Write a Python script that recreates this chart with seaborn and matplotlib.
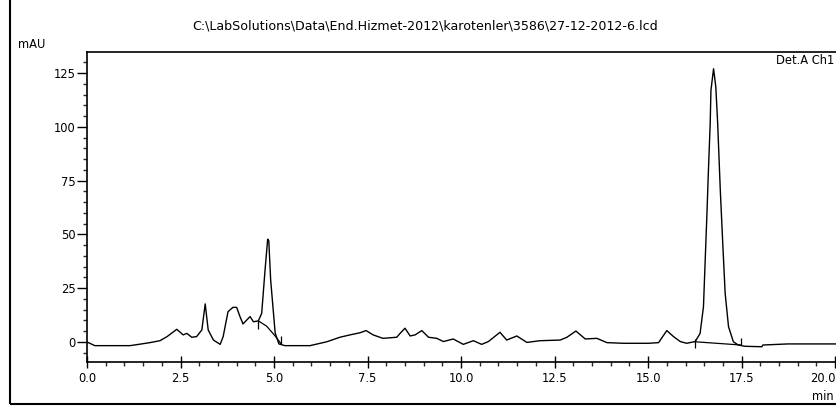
import matplotlib
matplotlib.use("Agg")
import matplotlib.pyplot as plt
from matplotlib.patches import Rectangle
from matplotlib.ticker import MultipleLocator, FormatStrFormatter
import seaborn as sns
import pandas as pd

# Chromatogram trace (retention time in min, absorbance in mAU)
time_min = [0.00, 0.21, 1.15, 1.42, 1.68, 1.95, 2.14, 2.40, 2.57, 2.67, 2.80, 2.93,
            3.07, 3.16, 3.24, 3.38, 3.56, 3.64, 3.77, 3.90, 4.00, 4.09, 4.17, 4.27,
            4.36, 4.45, 4.58, 4.67, 4.76, 4.83, 4.86, 4.91, 5.03, 5.13, 5.29, 5.96,
            6.41, 6.76, 7.03, 7.30, 7.46, 7.65, 7.91, 8.28, 8.37, 8.50, 8.64, 8.77,
            8.95, 9.13, 9.35, 9.53, 9.79, 10.06, 10.33, 10.55, 10.73, 11.04, 11.22,
            11.49, 11.76, 12.11, 12.65, 12.83, 13.07, 13.32, 13.63, 13.90, 14.34,
            15.01, 15.28, 15.50, 15.68, 15.86, 16.03, 16.26, 16.39, 16.48, 16.52,
            16.57, 16.61, 16.66, 16.68, 16.75, 16.81, 16.86, 16.93, 17.00, 17.06,
            17.15, 17.28, 17.41, 17.59, 18.04, 18.07, 18.74, 20.05]
signal_mau = [0.0, -1.7, -1.7, -1.0, -0.3, 0.6, 2.5, 5.9, 3.3, 4.0, 2.2, 2.5,
              5.6, 17.7, 5.6, 0.9, -1.1, 2.5, 14.1, 16.1, 16.1, 11.8, 8.4, 10.2,
              11.8, 9.4, 9.8, 13.3, 33.5, 47.8, 47.0, 28.8, 4.2, -0.9, -1.7, -1.7,
              0.1, 2.2, 3.3, 4.3, 5.3, 3.3, 1.7, 2.2, 4.0, 6.4, 2.8, 3.3,
              5.3, 2.2, 1.7, 0.2, 1.4, -1.1, 0.6, -1.1, 0.2, 4.5, 0.9,
              2.8, -0.2, 0.6, 0.9, 2.2, 5.1, 1.4, 1.7, -0.3, -0.6,
              -0.6, -0.3, 5.3, 2.5, 0.2, -0.6, 0.2, 4.0, 16.4, 35.0,
              58.2, 78.4, 101.6, 117.0, 127.0, 118.6, 101.6, 70.6, 44.3, 22.6,
              7.1, 0.1, -1.4, -2.0, -2.2, -1.4, -0.9, -0.9]

# Integration baselines
base1_time = [4.58, 4.80, 5.03, 5.19]
base1_mau = [9.8, 7.4, 2.8, -0.9]
base2_time = [16.26, 17.48]
base2_mau = [0.1, -1.4]

# Peak start / end markers: (time, top, bottom)
marker_time = [4.58, 5.19, 16.26, 17.48]
marker_top = [9.8, 2.8, 1.4, 1.9]
marker_bottom = [6.0, -0.9, -2.8, -1.4]

title_text = r"C:\LabSolutions\Data\End.Hizmet-2012\karotenler\3586\27-12-2012-6.lcd"

sns.set_style("ticks")
plt.rcParams['font.family'] = ['DejaVu Sans']
plt.rcParams['text.color'] = 'black'

fig = plt.figure(figsize=(8.37, 4.07), dpi=100)
ax = fig.add_axes([87 / 837, 1 - 362 / 407, 1 - 87 / 837, (362 - 52) / 407])

df = pd.DataFrame({"t": time_min, "v": signal_mau})
sns.lineplot(data=df, x="t", y="v", ax=ax, color="black", lw=1.0, sort=False)
sns.lineplot(x=base1_time, y=base1_mau, ax=ax, color="black", lw=0.9, sort=False)
sns.lineplot(x=base2_time, y=base2_mau, ax=ax, color="black", lw=0.9, sort=False)
ax.vlines(marker_time, marker_bottom, marker_top, color="black", lw=0.9)

ax.set_xlim(0, 20.05)
ax.set_ylim(-9.3, 134.8)
ax.set_xlabel("")
ax.set_ylabel("")

ax.xaxis.set_major_locator(MultipleLocator(2.5))
ax.xaxis.set_minor_locator(MultipleLocator(0.5))
ax.yaxis.set_major_locator(MultipleLocator(25))
ax.yaxis.set_minor_locator(MultipleLocator(5))
ax.xaxis.set_major_formatter(FormatStrFormatter("%.1f"))
ax.yaxis.set_major_formatter(FormatStrFormatter("%d"))

ax.tick_params(axis="x", which="major", direction="inout", length=8, width=1,
               labelsize=8.3, pad=3, colors="black")
ax.tick_params(axis="x", which="minor", direction="out", length=3, width=1)
ax.tick_params(axis="y", which="major", direction="out", length=7, width=1,
               labelsize=8.3, pad=1, colors="black")
ax.tick_params(axis="y", which="minor", direction="out", length=3, width=1)

for s in ["left", "top", "bottom"]:
    ax.spines[s].set_color("black")
    ax.spines[s].set_linewidth(1.2)
ax.spines["right"].set_visible(False)

fig.canvas.draw()
for lab in ax.get_xticklabels():
    if lab.get_text() == "20.0":
        lab.set_horizontalalignment("right")

fig.text(425 / 837, 1 - 26 / 407, title_text, ha="center", va="center", fontsize=9.1)
fig.text(18 / 837, 1 - 45 / 407, "mAU", ha="left", va="center", fontsize=8.3)
fig.text(834 / 837, 1 - 60 / 407, "Det.A Ch1", ha="right", va="center", fontsize=8.3)
fig.text(834 / 837, 1 - 396 / 407, "min", ha="right", va="center", fontsize=8.3)

fig.add_artist(Rectangle((10 / 837, 3 / 407), 1.2, 1.1, transform=fig.transFigure,
                         fill=False, edgecolor="black", lw=1.5, clip_on=False))

fig.savefig("out.png", dpi=100)
